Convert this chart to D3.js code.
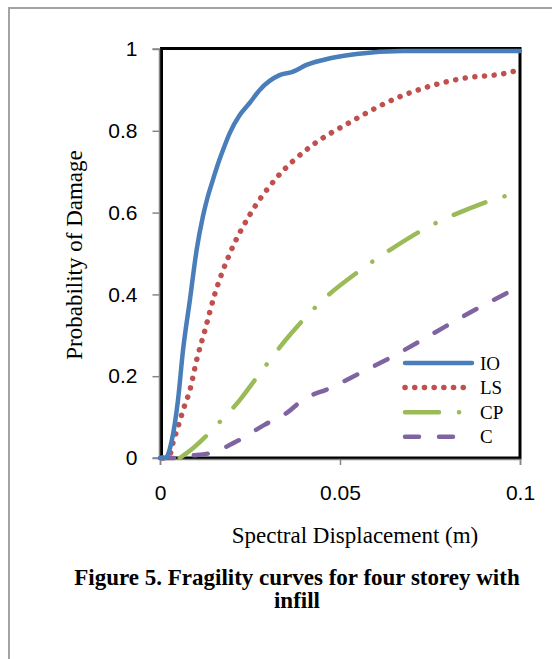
<!DOCTYPE html>
<html>
<head>
<meta charset="utf-8">
<script src="https://cdn.jsdelivr.net/npm/d3@7"></script>
<style>
  html, body { margin: 0; padding: 0; background: #fff; }
  svg { display: block; }
</style>
</head>
<body>
<div id="chart"></div>
<script>
// values: spectral displacement (m) vs probability
const ioSd = [0, 0.0015, 0.0033, 0.005, 0.0064, 0.0083, 0.0102, 0.0119, 0.0133, 0.0147, 0.0158, 0.0175, 0.0194, 0.0222, 0.0249, 0.0277, 0.0332, 0.0368, 0.0407, 0.0476, 0.0546, 0.0673, 0.1]
const ioP  = [0, 0, 0.044, 0.142, 0.264, 0.386, 0.51, 0.59, 0.64, 0.68, 0.711, 0.753, 0.795, 0.839, 0.868, 0.9, 0.936, 0.944, 0.961, 0.978, 0.988, 0.995, 0.995]

const lsSd = [0.0008, 0.0028, 0.0036, 0.005, 0.0066, 0.0083, 0.0102, 0.0125, 0.0152, 0.0194, 0.0249, 0.0319, 0.0416, 0.0526, 0.0665, 0.0753, 0.0848, 0.095, 0.1]
const lsP  = [0, 0.01, 0.037, 0.076, 0.122, 0.166, 0.24, 0.313, 0.4, 0.5, 0.594, 0.68, 0.76, 0.82, 0.883, 0.91, 0.929, 0.939, 0.949]

const cpSd = [0.0055, 0.0089, 0.0125, 0.0158, 0.0222, 0.0263, 0.036, 0.0457, 0.055, 0.065, 0.0745, 0.0845, 0.092, 0.1]
const cpP  = [0, 0.022, 0.051, 0.081, 0.142, 0.19, 0.3, 0.39, 0.455, 0.515, 0.565, 0.605, 0.63, 0.65]

const cSd = [0, 0.0045, 0.008, 0.0139, 0.0216, 0.029, 0.0355, 0.0396, 0.047, 0.055, 0.065, 0.076, 0.086, 0.0956, 0.1]
const cP  = [0, 0, 0.005, 0.012, 0.042, 0.081, 0.112, 0.142, 0.17, 0.205, 0.25, 0.305, 0.355, 0.4, 0.42]

const seriesNames = ['IO', 'LS', 'CP', 'C']
const xTicks = [0, 0.05, 0.1]
const yTicks = [0, 0.2, 0.4, 0.6, 0.8, 1]

const W = 552, H = 659

const svg = d3.select('#chart').append('svg')
  .attr('width', W)
  .attr('height', H)

// outer frame
svg.append('path')
  .attr('d', `M9,${H} V8 H${W}`)
  .attr('fill', 'none')
  .attr('stroke', '#a3a3a3')
  .attr('stroke-width', 2)

const x = d3.scaleLinear().domain([0, 0.1]).range([160, 520])
const y = d3.scaleLinear().domain([0, 1]).range([458, 49])

// plot area border
svg.append('rect')
  .attr('x', 161.5).attr('y', 48.5)
  .attr('width', x(0.1) - 161.5).attr('height', y(0) - 48.5)
  .attr('fill', 'none')
  .attr('stroke', '#000')
  .attr('stroke-width', 3)

const yAxis = svg.append('g')
  .attr('transform', 'translate(159.5,0)')
  .call(d3.axisLeft(y).tickValues(yTicks).tickFormat(d => String(d)).tickSize(7).tickPadding(15))
yAxis.selectAll('path, line').attr('stroke', '#868686').attr('stroke-width', 1.5)
yAxis.select('.domain').attr('d', `M-7,${y(1)}H0V${y(0)}H-7`)
yAxis.selectAll('text')
  .attr('font-family', '"Liberation Sans", Arial, sans-serif')
  .attr('font-size', 21)
  .attr('fill', '#000')

const xAxis = svg.append('g')
  .attr('transform', 'translate(0,459)')
  .call(d3.axisBottom(x).tickValues(xTicks).tickFormat(d => String(d)).tickSize(6).tickPadding(20))
xAxis.selectAll('path, line').attr('stroke', '#868686').attr('stroke-width', 1.5)
xAxis.selectAll('text')
  .attr('font-family', '"Liberation Sans", Arial, sans-serif')
  .attr('font-size', 21)
  .attr('fill', '#000')

// axis titles
svg.append('text')
  .attr('transform', 'translate(82,255) rotate(-90)')
  .attr('text-anchor', 'middle')
  .attr('font-family', '"Liberation Serif", "Times New Roman", serif')
  .attr('font-size', 23)
  .text('Probability of Damage')

svg.append('text')
  .attr('x', 355).attr('y', 543)
  .attr('text-anchor', 'middle')
  .attr('font-family', '"Liberation Serif", "Times New Roman", serif')
  .attr('font-size', 23)
  .text('Spectral Displacement (m)')

const styles = [
  {color: '#4a7ebb', width: 4.5, dash: null},
  {color: '#c0504d', width: 5.5, dash: '0.1,9.6'},
  {color: '#9bbb59', width: 4.5, dash: '34,20,0.1,20'},
  {color: '#8064a2', width: 4.5, dash: '14,20'}
]

const seriesData = [
  d3.zip(ioSd, ioP),
  d3.zip(lsSd, lsP),
  d3.zip(cpSd, cpP),
  d3.zip(cSd, cP)
]

const line = d3.line().x(d => x(d[0])).y(d => y(d[1])).curve(d3.curveMonotoneX)

// draw in reverse so IO sits on top
svg.append('g').selectAll('path')
  .data(seriesData.map((d, i) => ({pts: d, s: styles[i]})).reverse())
  .enter()
  .append('path')
  .attr('d', d => line(d.pts))
  .attr('fill', 'none')
  .attr('stroke', d => d.s.color)
  .attr('stroke-width', d => d.s.width)
  .attr('stroke-linecap', 'round')
  .attr('stroke-linejoin', 'round')
  .attr('stroke-dasharray', d => d.s.dash)

// legend
const legend = svg.append('g').attr('transform', 'translate(403,363)')
const rows = legend.selectAll('g')
  .data(seriesNames)
  .enter()
  .append('g')
  .attr('transform', (d, i) => `translate(0,${i * 24.6})`)

rows.append('line')
  .attr('x1', 2).attr('x2', 69)
  .attr('stroke', (d, i) => styles[i].color)
  .attr('stroke-width', (d, i) => styles[i].width)
  .attr('stroke-linecap', 'round')
  .attr('stroke-dasharray', (d, i) => styles[i].dash)

rows.append('text')
  .attr('x', 77).attr('y', 6.5)
  .attr('font-family', '"Liberation Serif", "Times New Roman", serif')
  .attr('font-size', 19)
  .text(d => d)

// caption
const cap = svg.append('text')
  .attr('text-anchor', 'middle')
  .attr('font-family', '"Liberation Serif", "Times New Roman", serif')
  .attr('font-weight', 'bold')
  .attr('font-size', 23)
cap.append('tspan').attr('x', 297).attr('y', 585).text('Figure 5. Fragility curves for four storey with')
cap.append('tspan').attr('x', 297).attr('y', 608).text('infill')
</script>
</body>
</html>
